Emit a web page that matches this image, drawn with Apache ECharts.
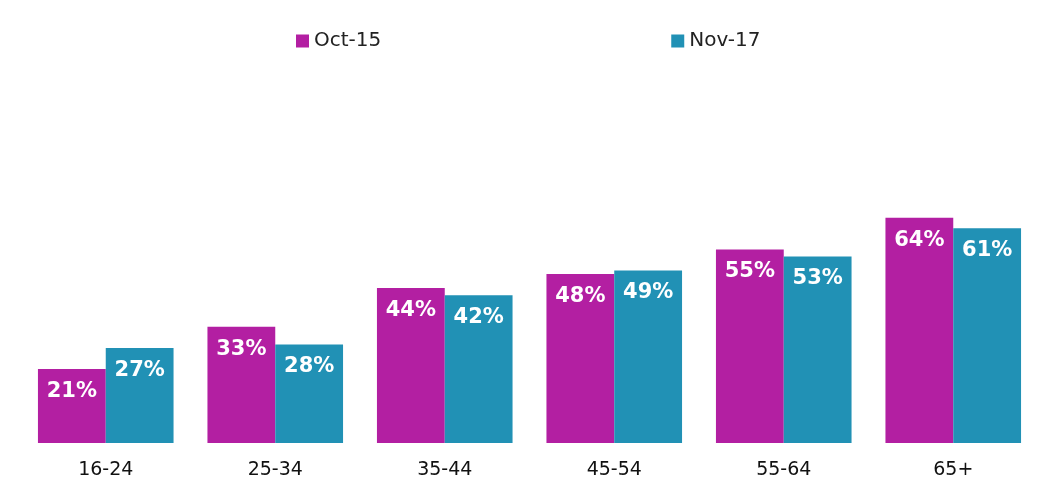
<!DOCTYPE html>
<html>
<head>
<meta charset="utf-8">
<script src="https://cdn.jsdelivr.net/npm/echarts@6/dist/echarts.min.js"></script>
<style>html,body{margin:0;padding:0;background:#fff}#chart{width:1038px;height:481px}</style>
</head>
<body>
<div id="chart"></div>
<script>
const categories = ['16-24', '25-34', '35-44', '45-54', '55-64', '65+'];
const oct15 = [21, 33, 44, 48, 55, 64];
const nov17 = [27, 28, 42, 49, 53, 61];

const chart = echarts.init(document.getElementById('chart'));
const label = {
  show: true,
  position: 'insideTop',
  distance: 12,
  formatter: '{c}%',
  color: '#fff',
  fontWeight: 'bold',
  fontSize: 21,
  fontFamily: 'DejaVu Sans'
};
chart.setOption({
  animation: false,
  legend: {
    left: 291,
    top: 26,
    itemWidth: 13,
    itemHeight: 13,
    itemGap: 290,
    icon: 'rect',
    textStyle: { fontSize: 20, color: '#222', fontFamily: 'DejaVu Sans' }
  },
  grid: { left: 21, right: -3, top: 91, bottom: 38 },
  xAxis: {
    type: 'category',
    data: categories,
    axisLine: { show: false },
    axisTick: { show: false },
    axisLabel: { fontSize: 19, color: '#111', margin: 18, fontFamily: 'DejaVu Sans' }
  },
  yAxis: { type: 'value', min: 0, max: 100, show: false },
  series: [
    { name: 'Oct-15', type: 'bar', data: oct15, barGap: 0, barCategoryGap: '20%',
      itemStyle: { color: '#B31FA2' }, label: label },
    { name: 'Nov-17', type: 'bar', data: nov17,
      itemStyle: { color: '#2191B5' }, label: label }
  ]
});
</script>
</body>
</html>
